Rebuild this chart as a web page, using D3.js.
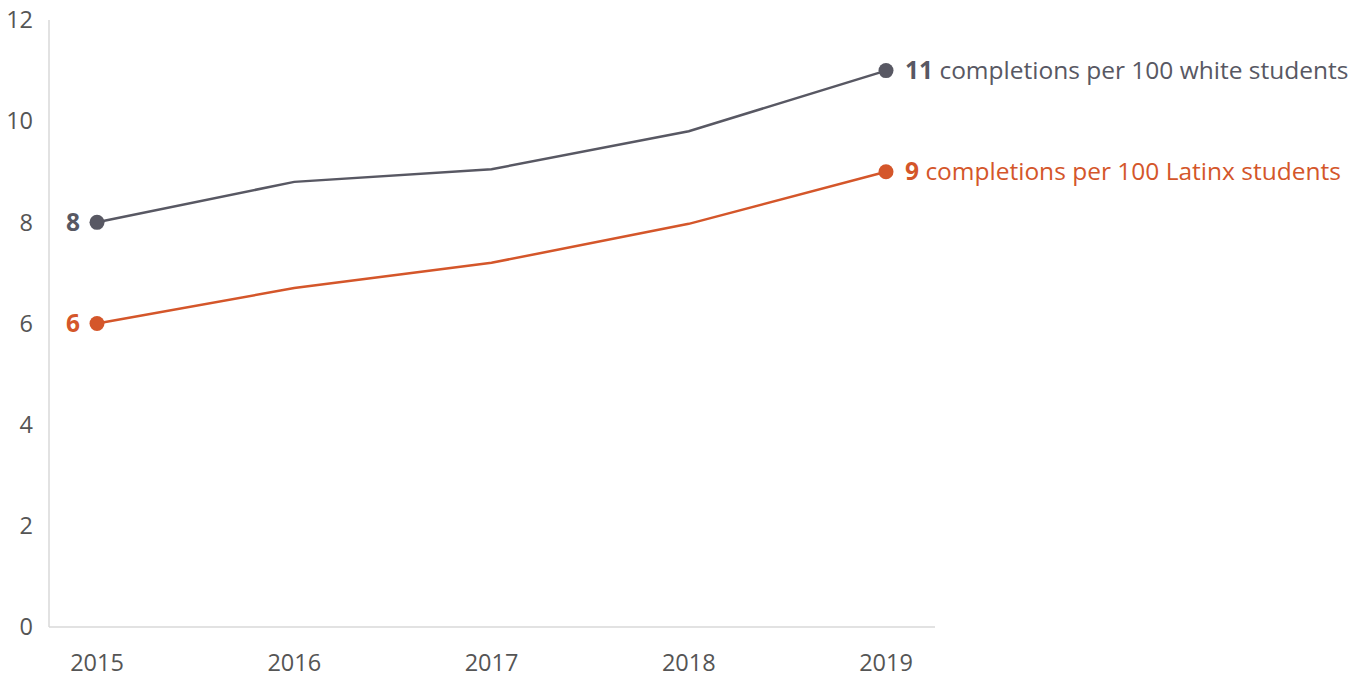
<!DOCTYPE html>
<html>
<head>
<meta charset="utf-8">
<script src="https://cdn.jsdelivr.net/npm/d3@7"></script>
<style>
  body { margin: 0; background: #fff; }
  text { font-family: "Open Sans", sans-serif; }
</style>
</head>
<body>
<script>
const years = [2015, 2016, 2017, 2018, 2019];
const whiteValues = [8, 8.8, 9.05, 9.8, 11];
const latinxValues = [6, 6.7, 7.2, 7.97, 9];
const yTicks = [0, 2, 4, 6, 8, 10, 12];

const series = [
  { name: "white", values: whiteValues, color: "#585863", label: "completions per 100 white students" },
  { name: "latinx", values: latinxValues, color: "#d4562a", label: "completions per 100 Latinx students" }
];

const W = 1365, H = 677;
const plotLeft = 49, plotRight = 935, plotTop = 20, plotBottom = 627;

const svg = d3.select("body").append("svg")
    .attr("width", W)
    .attr("height", H);

const x = d3.scalePoint().domain(years).range([97, 886]);
const y = d3.scaleLinear().domain([0, 12]).range([plotBottom, plotTop]);

// axis lines
svg.append("line")
    .attr("x1", plotLeft).attr("x2", plotLeft)
    .attr("y1", plotTop).attr("y2", plotBottom)
    .attr("stroke", "#d9d9d9").attr("stroke-width", 1.5);
svg.append("line")
    .attr("x1", plotLeft).attr("x2", plotRight)
    .attr("y1", plotBottom).attr("y2", plotBottom)
    .attr("stroke", "#d9d9d9").attr("stroke-width", 1.5);

// y tick labels
svg.selectAll(".ytick")
  .data(yTicks)
  .enter().append("text")
    .attr("class", "ytick")
    .attr("x", 33)
    .attr("y", d => y(d))
    .attr("dy", "0.35em")
    .attr("text-anchor", "end")
    .attr("fill", "#555")
    .style("font-size", "23.5px")
    .text(d => d);

// x tick labels
svg.selectAll(".xtick")
  .data(years)
  .enter().append("text")
    .attr("class", "xtick")
    .attr("x", d => x(d))
    .attr("y", 671)
    .attr("text-anchor", "middle")
    .attr("fill", "#555")
    .style("font-size", "23.5px")
    .text(d => d);

const line = d3.line()
    .x((d, i) => x(years[i]))
    .y(d => y(d));

series.forEach(s => {
  svg.append("path")
      .datum(s.values)
      .attr("fill", "none")
      .attr("stroke", s.color)
      .attr("stroke-width", 2.5)
      .attr("d", line);

  const first = s.values[0], last = s.values[s.values.length - 1];

  [[years[0], first], [years[years.length - 1], last]].forEach(p => {
    svg.append("circle")
        .attr("cx", x(p[0]))
        .attr("cy", y(p[1]))
        .attr("r", 7.5)
        .attr("fill", s.color);
  });

  // start label
  svg.append("text")
      .attr("x", x(years[0]) - 17)
      .attr("y", y(first))
      .attr("dy", "0.35em")
      .attr("text-anchor", "end")
      .attr("fill", s.color)
      .style("font-size", "24.5px")
      .style("font-weight", "700")
      .text(first);

  // end label
  const t = svg.append("text")
      .attr("x", x(years[years.length - 1]) + 19)
      .attr("y", y(last))
      .attr("dy", "0.35em")
      .attr("fill", s.color)
      .style("font-size", "24.5px");
  t.append("tspan").style("font-weight", "700").text(last);
  t.append("tspan").text(" " + s.label);
});
</script>
</body>
</html>
